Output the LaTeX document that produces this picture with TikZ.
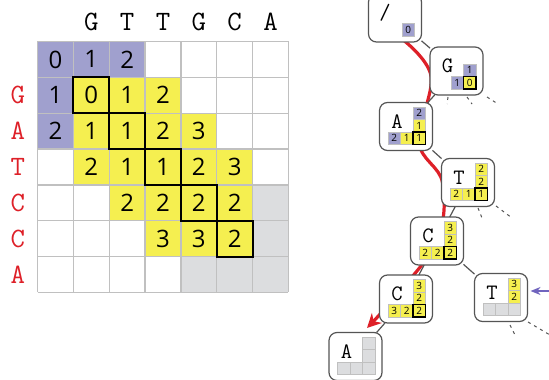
\documentclass[tikz,border=0pt]{standalone}
\usepackage{fontspec}
\setsansfont{Open Sans}
\usepackage{tikz}
\usetikzlibrary{calc,positioning,arrows.meta,backgrounds}

\definecolor{cellpurple}{RGB}{160,160,206}
\definecolor{cellyellow}{RGB}{245,239,80}
\definecolor{cellgray}{RGB}{220,221,223}
\definecolor{gridgray}{RGB}{192,192,192}
\definecolor{pathred}{RGB}{222,32,40}
\definecolor{feedblue}{RGB}{112,100,190}
\definecolor{boxgray}{RGB}{85,85,85}

\tikzset{
  cell/.style={minimum size=17.9pt,inner sep=0pt,outer sep=0pt,font=\sffamily\fontsize{12}{12}\selectfont},
  pcell/.style={cell,fill=cellpurple},
  ycell/.style={cell,fill=cellyellow},
  gcell/.style={cell,fill=cellgray},
  gridline/.style={draw=gridgray,line width=0.6pt},
  diagbox/.style={draw=black,line width=1pt},
  seqletter/.style={font=\ttfamily\fontsize{14}{14}\selectfont,inner sep=0pt},
  tnode/.style={draw=boxgray,fill=white,rounded corners=4pt,minimum width=26.5pt,minimum height=24pt,line width=0.6pt,inner sep=0pt,outer sep=0pt},
  tletter/.style={font=\ttfamily\fontsize{11}{11}\selectfont,inner sep=0pt},
  mini/.style={draw=gridgray,line width=0.4pt,minimum size=6.25pt,inner sep=0pt,outer sep=0pt,font=\sffamily\fontsize{5}{5}\selectfont},
  mp/.style={mini,fill=cellpurple},
  my/.style={mini,fill=cellyellow},
  mg/.style={mini,fill=cellgray},
  minibold/.style={draw=black,line width=0.7pt},
  tedge/.style={draw=boxgray,line width=0.6pt},
  stub/.style={draw=boxgray,line width=0.5pt,dash pattern=on 1.5pt off 2pt},
  redroute/.style={draw=pathred,line width=1.6pt,-{Stealth[length=7pt,width=7pt]}},
  feedarrow/.style={draw=feedblue,line width=0.8pt,-{Stealth[length=5pt,width=4pt]}}
}

\begin{document}
\begin{tikzpicture}[x=0.5pt,y=-0.5pt]
\useasboundingbox (0,0) rectangle (549,379);

% edit-distance band
\begin{scope}[shift={(37.5,41.5)},x=17.925pt,y=-17.925pt]
  \node[pcell] (m00) at (0.5,0.5) {0};
  \node[pcell] (m01) at (1.5,0.5) {1};
  \node[pcell] (m02) at (2.5,0.5) {2};
  \node[pcell] (m10) at (0.5,1.5) {1};
  \node[ycell] (m11) at (1.5,1.5) {0};
  \node[ycell] (m12) at (2.5,1.5) {1};
  \node[ycell] (m13) at (3.5,1.5) {2};
  \node[pcell] (m20) at (0.5,2.5) {2};
  \node[ycell] (m21) at (1.5,2.5) {1};
  \node[ycell] (m22) at (2.5,2.5) {1};
  \node[ycell] (m23) at (3.5,2.5) {2};
  \node[ycell] (m24) at (4.5,2.5) {3};
  \node[ycell] (m31) at (1.5,3.5) {2};
  \node[ycell] (m32) at (2.5,3.5) {1};
  \node[ycell] (m33) at (3.5,3.5) {1};
  \node[ycell] (m34) at (4.5,3.5) {2};
  \node[ycell] (m35) at (5.5,3.5) {3};
  \node[ycell] (m42) at (2.5,4.5) {2};
  \node[ycell] (m43) at (3.5,4.5) {2};
  \node[ycell] (m44) at (4.5,4.5) {2};
  \node[ycell] (m45) at (5.5,4.5) {2};
  \node[gcell] (m46) at (6.5,4.5) {};
  \node[ycell] (m53) at (3.5,5.5) {3};
  \node[ycell] (m54) at (4.5,5.5) {3};
  \node[ycell] (m55) at (5.5,5.5) {2};
  \node[gcell] (m56) at (6.5,5.5) {};
  \node[gcell] (m64) at (4.5,6.5) {};
  \node[gcell] (m65) at (5.5,6.5) {};
  \node[gcell] (m66) at (6.5,6.5) {};
  \foreach \i in {0,...,7} {
    \draw[gridline] (\i,0) -- (\i,7);
    \draw[gridline] (0,\i) -- (7,\i);
  }
  \foreach \d in {11,22,33,44,55}
    \draw[diagbox] (m\d.north west) rectangle (m\d.south east);
  % sequences
  \node[seqletter] (t1) at (1.5,-0.55) {G};
  \node[seqletter] (t2) at (2.5,-0.55) {T};
  \node[seqletter] (t3) at (3.5,-0.55) {T};
  \node[seqletter] (t4) at (4.5,-0.55) {G};
  \node[seqletter] (t5) at (5.5,-0.55) {C};
  \node[seqletter] (t6) at (6.5,-0.55) {A};
  \node[seqletter,text=pathred] (q1) at (-0.55,1.5) {G};
  \node[seqletter,text=pathred] (q2) at (-0.55,2.5) {A};
  \node[seqletter,text=pathred] (q3) at (-0.55,3.5) {T};
  \node[seqletter,text=pathred] (q4) at (-0.55,4.5) {C};
  \node[seqletter,text=pathred] (q5) at (-0.55,5.5) {C};
  \node[seqletter,text=pathred] (q6) at (-0.55,6.5) {A};
\end{scope}

% trie
\node[tnode] (root) at (395,18) {};
\node[tletter] (root-l) at ($(root)+(-10,-5)$) {/};
\node[mp] (root-0) at ($(root)+(13.25,11.75)$) {0};

\node[tnode] (G) at (456.5,71) {};
\node[tletter] (G-l) at ($(G)+(-9,-5)$) {G};
\node[my] (G-0) at ($(G)+(13.25,11.75)$) {0};
\node[mp,above=0pt of G-0] (G-1) {1};
\node[mp,left=0pt of G-0] (G-2) {1};
\draw[minibold] (G-0.north west) rectangle (G-0.south east);

\node[tnode] (A) at (406,126.5) {};
\node[tletter] (A-l) at ($(A)+(-9,-5)$) {A};
\node[my] (A-0) at ($(A)+(13.25,11.75)$) {1};
\node[my,above=0pt of A-0] (A-1) {1};
\node[mp,above=0pt of A-1] (A-2) {2};
\node[my,left=0pt of A-0] (A-3) {1};
\node[mp,left=0pt of A-3] (A-4) {2};
\draw[minibold] (A-0.north west) rectangle (A-0.south east);

\node[tnode] (T) at (468,182.5) {};
\node[tletter] (T-l) at ($(T)+(-9,-5)$) {T};
\node[my] (T-0) at ($(T)+(13.25,11.75)$) {1};
\node[my,above=0pt of T-0] (T-1) {2};
\node[my,above=0pt of T-1] (T-2) {2};
\node[my,left=0pt of T-0] (T-3) {1};
\node[my,left=0pt of T-3] (T-4) {2};
\draw[minibold] (T-0.north west) rectangle (T-0.south east);

\node[tnode] (C) at (437,241) {};
\node[tletter] (C-l) at ($(C)+(-9,-5)$) {C};
\node[my] (C-0) at ($(C)+(13.25,11.75)$) {2};
\node[my,above=0pt of C-0] (C-1) {2};
\node[my,above=0pt of C-1] (C-2) {3};
\node[my,left=0pt of C-0] (C-3) {2};
\node[my,left=0pt of C-3] (C-4) {2};
\draw[minibold] (C-0.north west) rectangle (C-0.south east);

\node[tnode] (C2) at (406,299) {};
\node[tletter] (C2-l) at ($(C2)+(-9,-5)$) {C};
\node[my] (C2-0) at ($(C2)+(13.25,11.75)$) {2};
\node[my,above=0pt of C2-0] (C2-1) {2};
\node[my,above=0pt of C2-1] (C2-2) {3};
\node[my,left=0pt of C2-0] (C2-3) {2};
\node[my,left=0pt of C2-3] (C2-4) {3};
\draw[minibold] (C2-0.north west) rectangle (C2-0.south east);

\node[tnode] (T2) at (501,297.5) {};
\node[tletter] (T2-l) at ($(T2)+(-9,-5)$) {T};
\node[mg] (T2-0) at ($(T2)+(13.25,11.75)$) {};
\node[my,above=0pt of T2-0] (T2-1) {2};
\node[my,above=0pt of T2-1] (T2-2) {3};
\node[mg,left=0pt of T2-0] (T2-3) {};
\node[mg,left=0pt of T2-3] (T2-4) {};

\node[tnode] (A2) at (355.5,356.5) {};
\node[tletter] (A2-l) at ($(A2)+(-9,-5)$) {A};
\node[mg] (A2-0) at ($(A2)+(13.25,11.75)$) {};
\node[mg,above=0pt of A2-0] (A2-1) {};
\node[mg,above=0pt of A2-1] (A2-2) {};
\node[mg,left=0pt of A2-0] (A2-3) {};
\node[mg,left=0pt of A2-3] (A2-4) {};

\draw[tedge] (root) -- (G);
\draw[tedge] (G) -- (A);
\draw[tedge] (A) -- (T);
\draw[tedge] (T) -- (C);
\draw[tedge] (C) -- (C2);
\draw[tedge] (C) -- (T2);
\draw[tedge] (C2) -- (A2);

% cut-off children
\draw[stub] ($(G)+(-8.5,26)$) -- ++(-1,7);
\draw[stub] ($(G)+(10.5,26)$) -- ++(5,7);
\draw[stub] ($(G)+(30.5,26)$) -- ++(11,7);
\draw[stub] ($(T)+(10,25.5)$) -- ++(4,10);
\draw[stub] ($(T)+(28,23.5)$) -- ++(16,12);
\draw[stub] ($(T2)+(9,27.5)$) -- ++(5,10);
\draw[stub] ($(T2)+(27,24.5)$) -- ++(22,13);

\coordinate (feed) at (549,291);
\draw[feedarrow] (feed) -- ($(T2.east)+(3,-6.5)$);

% search path
\coordinate (r0) at ($(root.south)+(7,-3)$);
\coordinate (r1) at ($(G.west)+(1,5)$);
\coordinate (r2) at ($(A.south)+(13,-8)$);
\coordinate (r3) at ($(T.west)+(1,0)$);
\coordinate (r5) at ($(C2)+(-13,0)$);
\coordinate (redtip) at (367,328);
\begin{scope}[on background layer]
  \fill[white] (0,0) rectangle (549,379);
  \draw[redroute] plot[smooth,tension=0.6] coordinates {(r0) (r1) (r2) (r3) (C) (r5) (redtip)};
\end{scope}
\end{tikzpicture}
\end{document}
